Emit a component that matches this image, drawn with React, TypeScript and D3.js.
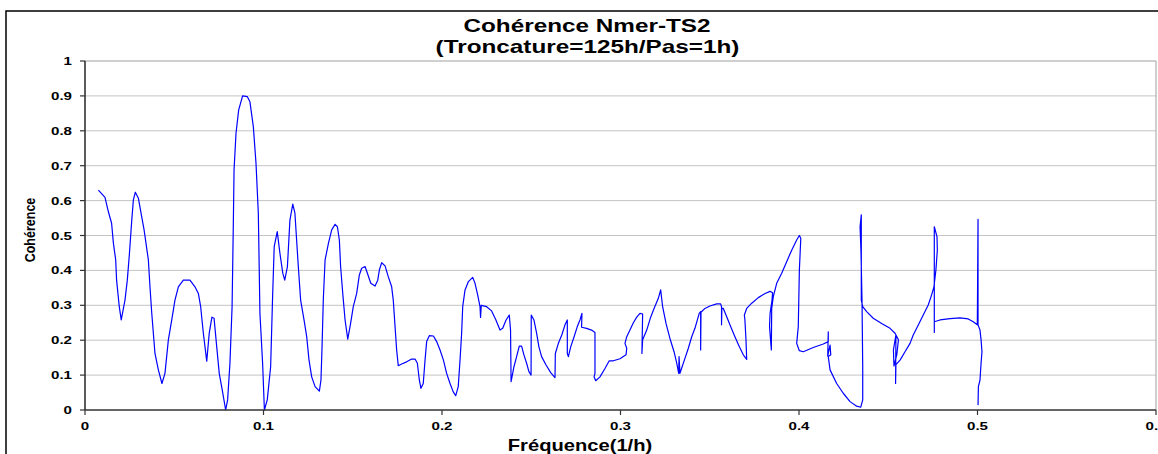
import React from "react";
import * as d3 from "d3";

const freq: number[] = [
  0.0075, 0.0112, 0.0131, 0.0149, 0.0159, 0.0172, 0.0177, 0.0192, 0.0203, 0.0224, 0.0237, 0.0249, 0.0262, 0.0271, 0.0282, 0.0299, 0.0314, 0.0331, 0.0355, 0.0364,
  0.0374, 0.0392, 0.0411, 0.0431, 0.0448, 0.0467, 0.0486, 0.0504, 0.0523, 0.0551, 0.0588, 0.0616, 0.0635, 0.0648, 0.0663, 0.0682, 0.0696, 0.0711, 0.0723, 0.0738,
  0.0752, 0.0769, 0.0788, 0.0799, 0.0812, 0.0824, 0.0831, 0.0835, 0.0846, 0.0861, 0.0883, 0.0909, 0.0924, 0.0943, 0.0958, 0.0971, 0.0980, 0.0995, 0.1005, 0.1021,
  0.1040, 0.1051, 0.1060, 0.1077, 0.1092, 0.1108, 0.1119, 0.1134, 0.1148, 0.1164, 0.1176, 0.1195, 0.1208, 0.1227, 0.1242, 0.1255, 0.1270, 0.1289, 0.1313, 0.1322,
  0.1328, 0.1335, 0.1345, 0.1364, 0.1382, 0.1401, 0.1414, 0.1425, 0.1432, 0.1444, 0.1457, 0.1472, 0.1488, 0.1503, 0.1522, 0.1537, 0.1550, 0.1569, 0.1582, 0.1601,
  0.1625, 0.1640, 0.1649, 0.1662, 0.1681, 0.1699, 0.1718, 0.1727, 0.1737, 0.1746, 0.1755, 0.1774, 0.1802, 0.1830, 0.1849, 0.1862, 0.1873, 0.1882, 0.1895, 0.1905,
  0.1914, 0.1929, 0.1952, 0.1970, 0.1989, 0.2008, 0.2026, 0.2045, 0.2063, 0.2077, 0.2091, 0.2101, 0.2110, 0.2116, 0.2129, 0.2148, 0.2172, 0.2185, 0.2198, 0.2213,
  0.2216, 0.2220, 0.2250, 0.2278, 0.2302, 0.2325, 0.2340, 0.2359, 0.2377, 0.2384, 0.2387, 0.2396, 0.2403, 0.2418, 0.2433, 0.2446, 0.2459, 0.2474, 0.2487, 0.2499,
  0.2500, 0.2515, 0.2530, 0.2543, 0.2558, 0.2583, 0.2609, 0.2633, 0.2635, 0.2652, 0.2671, 0.2689, 0.2702, 0.2702, 0.2708, 0.2721, 0.2740, 0.2758, 0.2773, 0.2784,
  0.2782, 0.2810, 0.2838, 0.2857, 0.2857, 0.2852, 0.2861, 0.2885, 0.2913, 0.2937, 0.2960, 0.2997, 0.3031, 0.3035, 0.3025, 0.3035, 0.3053, 0.3072, 0.3091, 0.3109,
  0.3124, 0.3120, 0.3124, 0.3147, 0.3169, 0.3188, 0.3212, 0.3225, 0.3236, 0.3255, 0.3277, 0.3300, 0.3315, 0.3326, 0.3328, 0.3333, 0.3342, 0.3361, 0.3380, 0.3399,
  0.3417, 0.3441, 0.3449, 0.3449, 0.3451, 0.3473, 0.3501, 0.3539, 0.3561, 0.3566, 0.3566, 0.3568, 0.3576, 0.3595, 0.3617, 0.3641, 0.3666, 0.3688, 0.3707, 0.3703,
  0.3697, 0.3694, 0.3707, 0.3735, 0.3772, 0.3810, 0.3838, 0.3852, 0.3849, 0.3838, 0.3835, 0.3845, 0.3847, 0.3856, 0.3875, 0.3903, 0.3931, 0.3959, 0.3987, 0.4002,
  0.4010, 0.4002, 0.3996, 0.3987, 0.4002, 0.4024, 0.4080, 0.4136, 0.4164, 0.4164, 0.4161, 0.4174, 0.4178, 0.4164, 0.4174, 0.4211, 0.4248, 0.4286, 0.4323, 0.4346,
  0.4357, 0.4357, 0.4353, 0.4347, 0.4342, 0.4349, 0.4349, 0.4357, 0.4379, 0.4416, 0.4463, 0.4510, 0.4538, 0.4557, 0.4548, 0.4532, 0.4529, 0.4543, 0.4541, 0.4543,
  0.4566, 0.4594, 0.4622, 0.4640, 0.4669, 0.4696, 0.4724, 0.4743, 0.4756, 0.4767, 0.4775, 0.4773, 0.4758, 0.4758, 0.4758, 0.4790, 0.4846, 0.4902, 0.4948, 0.4976,
  0.4999, 0.5003, 0.5003, 0.5014, 0.5020, 0.5025, 0.5020, 0.5014, 0.5005, 0.5003,
];

const coherence: number[] = [
  0.630, 0.609, 0.568, 0.535, 0.478, 0.430, 0.372, 0.296, 0.258, 0.315, 0.372, 0.449, 0.544, 0.602, 0.624, 0.607, 0.564, 0.516, 0.430, 0.353,
  0.277, 0.162, 0.115, 0.076, 0.105, 0.201, 0.258, 0.315, 0.353, 0.372, 0.372, 0.353, 0.334, 0.296, 0.220, 0.140, 0.220, 0.266, 0.263, 0.181,
  0.105, 0.057, 0.000, 0.029, 0.134, 0.296, 0.535, 0.688, 0.793, 0.860, 0.900, 0.898, 0.883, 0.812, 0.707, 0.564, 0.277, 0.134, 0.000, 0.029,
  0.124, 0.325, 0.468, 0.511, 0.449, 0.392, 0.372, 0.411, 0.544, 0.590, 0.564, 0.411, 0.315, 0.258, 0.210, 0.143, 0.095, 0.067, 0.054, 0.086,
  0.181, 0.315, 0.430, 0.478, 0.516, 0.532, 0.525, 0.487, 0.411, 0.334, 0.258, 0.203, 0.248, 0.296, 0.334, 0.387, 0.406, 0.411, 0.392, 0.363,
  0.355, 0.372, 0.401, 0.422, 0.413, 0.382, 0.353, 0.315, 0.239, 0.172, 0.127, 0.132, 0.138, 0.146, 0.146, 0.134, 0.086, 0.062, 0.076, 0.143,
  0.196, 0.213, 0.212, 0.196, 0.172, 0.143, 0.105, 0.076, 0.052, 0.041, 0.067, 0.143, 0.220, 0.296, 0.344, 0.368, 0.380, 0.363, 0.334, 0.296,
  0.265, 0.300, 0.296, 0.284, 0.258, 0.229, 0.234, 0.258, 0.272, 0.229, 0.081, 0.105, 0.124, 0.153, 0.183, 0.183, 0.158, 0.134, 0.110, 0.100,
  0.272, 0.258, 0.220, 0.181, 0.153, 0.129, 0.107, 0.093, 0.162, 0.191, 0.215, 0.244, 0.258, 0.162, 0.153, 0.181, 0.210, 0.239, 0.258, 0.277,
  0.237, 0.234, 0.229, 0.222, 0.105, 0.095, 0.084, 0.095, 0.119, 0.141, 0.141, 0.147, 0.158, 0.177, 0.191, 0.210, 0.229, 0.250, 0.266, 0.277,
  0.275, 0.162, 0.201, 0.229, 0.266, 0.291, 0.320, 0.344, 0.296, 0.248, 0.205, 0.167, 0.134, 0.105, 0.153, 0.105, 0.119, 0.148, 0.177, 0.210,
  0.234, 0.277, 0.282, 0.172, 0.280, 0.291, 0.298, 0.304, 0.304, 0.296, 0.244, 0.292, 0.291, 0.267, 0.239, 0.210, 0.181, 0.158, 0.145, 0.201,
  0.258, 0.272, 0.291, 0.306, 0.322, 0.334, 0.340, 0.336, 0.315, 0.277, 0.239, 0.172, 0.290, 0.325, 0.363, 0.392, 0.425, 0.458, 0.487, 0.500,
  0.492, 0.400, 0.239, 0.191, 0.170, 0.167, 0.179, 0.189, 0.196, 0.224, 0.155, 0.186, 0.158, 0.153, 0.115, 0.076, 0.048, 0.024, 0.011, 0.008,
  0.029, 0.124, 0.315, 0.458, 0.525, 0.559, 0.315, 0.296, 0.282, 0.263, 0.248, 0.234, 0.220, 0.201, 0.159, 0.126, 0.172, 0.215, 0.076, 0.130,
  0.143, 0.167, 0.191, 0.215, 0.244, 0.272, 0.301, 0.330, 0.353, 0.401, 0.458, 0.497, 0.525, 0.222, 0.253, 0.258, 0.262, 0.264, 0.261, 0.253,
  0.244, 0.546, 0.244, 0.229, 0.201, 0.167, 0.134, 0.086, 0.067, 0.014,
];

const xTicks: number[] = [0, 0.1, 0.2, 0.3, 0.4, 0.5, 0.6];
const yTicks: number[] = [0, 0.1, 0.2, 0.3, 0.4, 0.5, 0.6, 0.7, 0.8, 0.9, 1];

const W = 1158;
const H = 454;
const L = 85;
const R = 1156;
const T = 61;
const B = 410;
const FONT = "'Liberation Sans', Arial, Helvetica, sans-serif";

export default function App() {
  const x = d3.scaleLinear().domain([0, 0.6]).range([L, R]);
  const y = d3.scaleLinear().domain([0, 1]).range([B, T]);
  const pts: [number, number][] = freq.map((f, i) => [f, coherence[i]]);
  const line = d3
    .line<[number, number]>()
    .x((d) => x(d[0]))
    .y((d) => y(d[1]));
  const fmt = (v: number) => (v === 0 ? "0" : v === 1 ? "1" : d3.format(".1f")(v));

  return (
    <svg
      width={W}
      height={H}
      style={{ position: "absolute", left: 0, top: 0, background: "#fff" }}
      fontFamily={FONT}
    >
      <rect x={0} y={0} width={W} height={H} fill="#fff" />
      <rect x={6} y={11} width={W + 40} height={H + 40} fill="none" stroke="#000" strokeWidth={1.5} />
      {/* titles */}
      <text transform={`translate(587,31.5) scale(1.35,1)`} textAnchor="middle" fontSize={18} fontWeight="bold" fill="#000">
        Cohérence Nmer-TS2
      </text>
      <text transform={`translate(587.5,53) scale(1.35,1)`} textAnchor="middle" fontSize={18} fontWeight="bold" fill="#000">
        (Troncature=125h/Pas=1h)
      </text>
      {/* gridlines */}
      {yTicks
        .filter((v) => v > 0)
        .map((v) => (
          <line key={"g" + v} x1={L} x2={R} y1={y(v)} y2={y(v)} stroke={v === 1 ? "#a0a0a0" : "#c4c4c4"} strokeWidth={1} />
        ))}
      <line x1={R} x2={R} y1={T} y2={B} stroke="#a0a0a0" strokeWidth={1} />
      {/* data */}
      <path d={line(pts) || ""} fill="none" stroke="#0000ff" strokeWidth={1.2} strokeLinejoin="round" />
      {/* axes */}
      <line x1={L} x2={L} y1={T} y2={B} stroke="#333" strokeWidth={1.6} />
      <line x1={L} x2={R} y1={B} y2={B} stroke="#333" strokeWidth={1.6} />
      {yTicks.map((v) => (
        <g key={"y" + v}>
          <line x1={L - 5} x2={L} y1={y(v)} y2={y(v)} stroke="#333" strokeWidth={1.2} />
          <text transform={`translate(72,${y(v) + 4}) scale(1.37,1)`} textAnchor="end" fontSize={11} fontWeight="bold" fill="#000">
            {fmt(v)}
          </text>
        </g>
      ))}
      {xTicks.map((v) => (
        <g key={"x" + v}>
          <line x1={x(v)} x2={x(v)} y1={B} y2={B + 5} stroke="#333" strokeWidth={1.2} />
          <text transform={`translate(${x(v)},430) scale(1.37,1)`} textAnchor="middle" fontSize={11} fontWeight="bold" fill="#000">
            {fmt(v)}
          </text>
        </g>
      ))}
      <text transform={`translate(580,451) scale(1.26,1)`} textAnchor="middle" fontSize={16} fontWeight="bold" fill="#000">
        Fréquence(1/h)
      </text>
      <text transform={`translate(34.5,230) scale(1.15,1) rotate(-90)`} textAnchor="middle" fontSize={12.5} fontWeight="bold" fill="#000">
        Cohérence
      </text>
    </svg>
  );
}
